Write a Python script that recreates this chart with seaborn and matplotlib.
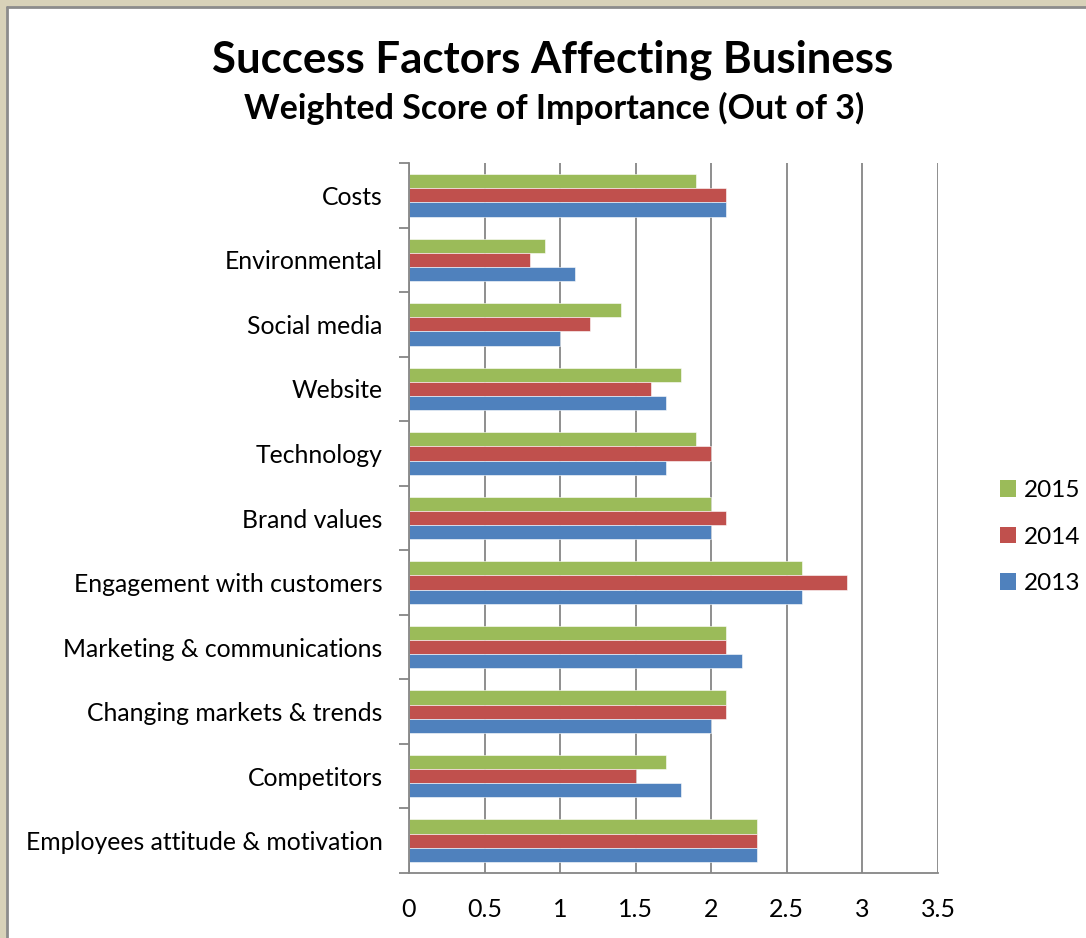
import matplotlib
matplotlib.use("Agg")
import matplotlib.pyplot as plt
from matplotlib.patches import Rectangle, Patch
import numpy as np
import pandas as pd
import seaborn as sns

categories = [
    "Costs", "Environmental", "Social media", "Website", "Technology",
    "Brand values", "Engagement with customers", "Marketing & communications",
    "Changing markets & trends", "Competitors", "Employees attitude & motivation",
]
years = ["2015", "2014", "2013"]
score_2015 = [1.9, 0.9, 1.4, 1.8, 1.9, 2.0, 2.6, 2.1, 2.1, 1.7, 2.3]
score_2014 = [2.1, 0.8, 1.2, 1.6, 2.0, 2.1, 2.9, 2.1, 2.1, 1.5, 2.3]
score_2013 = [2.1, 1.1, 1.0, 1.7, 1.7, 2.0, 2.6, 2.2, 2.0, 1.8, 2.3]
x_ticks = [0, 0.5, 1, 1.5, 2, 2.5, 3, 3.5]
x_tick_labels = ["0", "0.5", "1", "1.5", "2", "2.5", "3", "3.5"]

colors = {"2015": "#9BBB59", "2014": "#C0504D", "2013": "#4F81BD"}

df = pd.DataFrame({
    "Factor": categories * 3,
    "Year": ["2015"] * 11 + ["2014"] * 11 + ["2013"] * 11,
    "Score": score_2015 + score_2014 + score_2013,
})

sns.set_theme(style="white")
plt.rcParams["font.family"] = ["Lato", "DejaVu Sans"]
plt.rcParams["text.color"] = "black"
plt.rcParams["xtick.color"] = "black"
plt.rcParams["ytick.color"] = "black"

fig = plt.figure(figsize=(10.86, 9.38), dpi=100)
fig.patch.set_facecolor("#D8D2B9")
W, H = 1086, 938
# white chart area inside the beige frame
fig.patches.append(Rectangle((8 / W, 0), 1 - 8 / W, 1 - 8 / H, transform=fig.transFigure,
                             facecolor="white", edgecolor="none", zorder=-5))
fig.lines.append(plt.Line2D([7 / W, 7 / W], [0, 1 - 7 / H], transform=fig.transFigure,
                            color="#8C8C8C", lw=2, zorder=-4))
fig.lines.append(plt.Line2D([7 / W, 1], [1 - 7 / H, 1 - 7 / H], transform=fig.transFigure,
                            color="#8C8C8C", lw=2, zorder=-4))

ax = fig.add_axes([409 / W, 1 - 873 / H, (938 - 409) / W, (873 - 163) / H])
ax.set_facecolor("none")

sns.barplot(data=df, y="Factor", x="Score", hue="Year", order=categories,
            hue_order=years, palette=colors, orient="h", width=0.66,
            saturation=1, edgecolor="white", linewidth=0.4, ax=ax, legend=False,
            errorbar=None)

ax.set_xlim(0, 3.5)
ax.set_ylim(len(categories) - 0.5, -0.5)
ax.set_xticks(x_ticks)
ax.set_xticklabels(x_tick_labels, fontsize=18)
ax.set_xlabel("")
ax.set_ylabel("")
ax.tick_params(axis="y", which="major", length=0, labelsize=17.8, pad=19, labelcolor="black")
ax.tick_params(axis="x", which="major", length=7, color="#868686", width=1.3,
               pad=11, labelcolor="black", direction="out")
ax.set_yticks(np.arange(-0.5, len(categories), 1), minor=True)
ax.tick_params(axis="y", which="minor", length=7, color="#868686", width=1.3,
               direction="out", left=True)

ax.xaxis.grid(True, color="#868686", lw=1.3)
ax.set_axisbelow(True)
for s in ["top", "right"]:
    ax.spines[s].set_visible(False)
for s in ["left", "bottom"]:
    ax.spines[s].set_color("#868686")
    ax.spines[s].set_linewidth(1.3)

fig.text(553 / W, 1 - 60 / H, "Success Factors Affecting Business", ha="center",
         va="center", fontsize=31.5, fontweight="bold", color="black")
fig.text(554 / W, 1 - 108 / H, "Weighted Score of Importance (Out of 3)", ha="center",
         va="center", fontsize=24.5, fontweight="bold", color="black")

handles = [Patch(facecolor=colors[y], edgecolor="none", label=y) for y in years]
fig.legend(handles=handles, loc="center left", bbox_to_anchor=(978 / W, 1 - 537 / H),
           frameon=False, fontsize=17.5, handlelength=0.65, handleheight=0.65,
           handletextpad=0.35, labelspacing=1.05)

fig.savefig("out.png", dpi=100, facecolor=fig.get_facecolor())
